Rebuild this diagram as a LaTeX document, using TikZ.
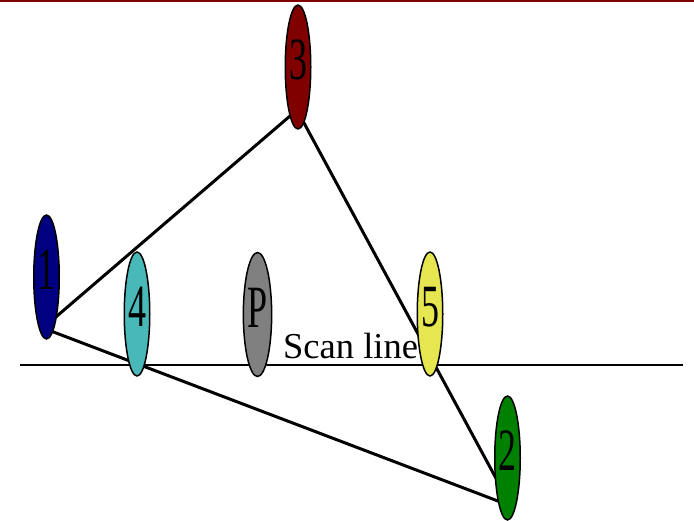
\documentclass[tikz,border=0pt]{standalone}
\usepackage{fontspec}
\setmainfont{Liberation Serif}
\usetikzlibrary{shapes.geometric}
\definecolor{azulmarino}{HTML}{000080}
\definecolor{turquesa}{HTML}{48B8B8}
\definecolor{gris}{HTML}{808080}
\definecolor{granate}{HTML}{800000}
\definecolor{amarillo}{HTML}{E6E650}
\definecolor{verde}{HTML}{008000}
\newcommand{\etiq}[1]{\raisebox{14pt}{\scalebox{0.6}[1]{#1}}}

\begin{document}
\begin{tikzpicture}[x=1pt,y=-1pt,
  vertice/.style={ellipse,draw,line width=1.5pt,minimum width=25.5pt,
    minimum height=124pt,inner sep=0pt,font=\fontsize{60}{60}\selectfont}]
  \useasboundingbox (0,0) rectangle (694,520);
  \draw[granate,line width=1.5pt] (0,0.75) -- (694,0.75);
  % scan line
  \coordinate (A) at (20,365);
  \coordinate (B) at (683,365);
  \draw[line width=1.5pt] (A) -- (B);
  \node[anchor=base west,inner sep=0pt,font=\fontsize{36.5}{40}\selectfont]
    (S) at (283,358) {Scan line};
  % triangle
  \coordinate (P1) at (43,328);
  \coordinate (P2) at (511,506);
  \coordinate (P3) at (297,110);
  \draw[line width=3pt,line join=round] (P1) -- (P3) -- (P2) -- cycle;
  % vertices
  \node[vertice,fill=azulmarino] (v1) at (46.5,277) {\etiq{1}};
  \node[vertice,fill=turquesa] (v4) at (137,314) {\etiq{4}};
  \node[vertice,fill=gris] (vP) at (257.5,314.5) {\etiq{P}};
  \node[vertice,fill=granate] (v3) at (298,67) {\etiq{3}};
  \node[vertice,fill=amarillo] (v5) at (430,314) {\etiq{5}};
  \node[vertice,fill=verde] (v2) at (507.5,458) {\etiq{2}};
\end{tikzpicture}
\end{document}
